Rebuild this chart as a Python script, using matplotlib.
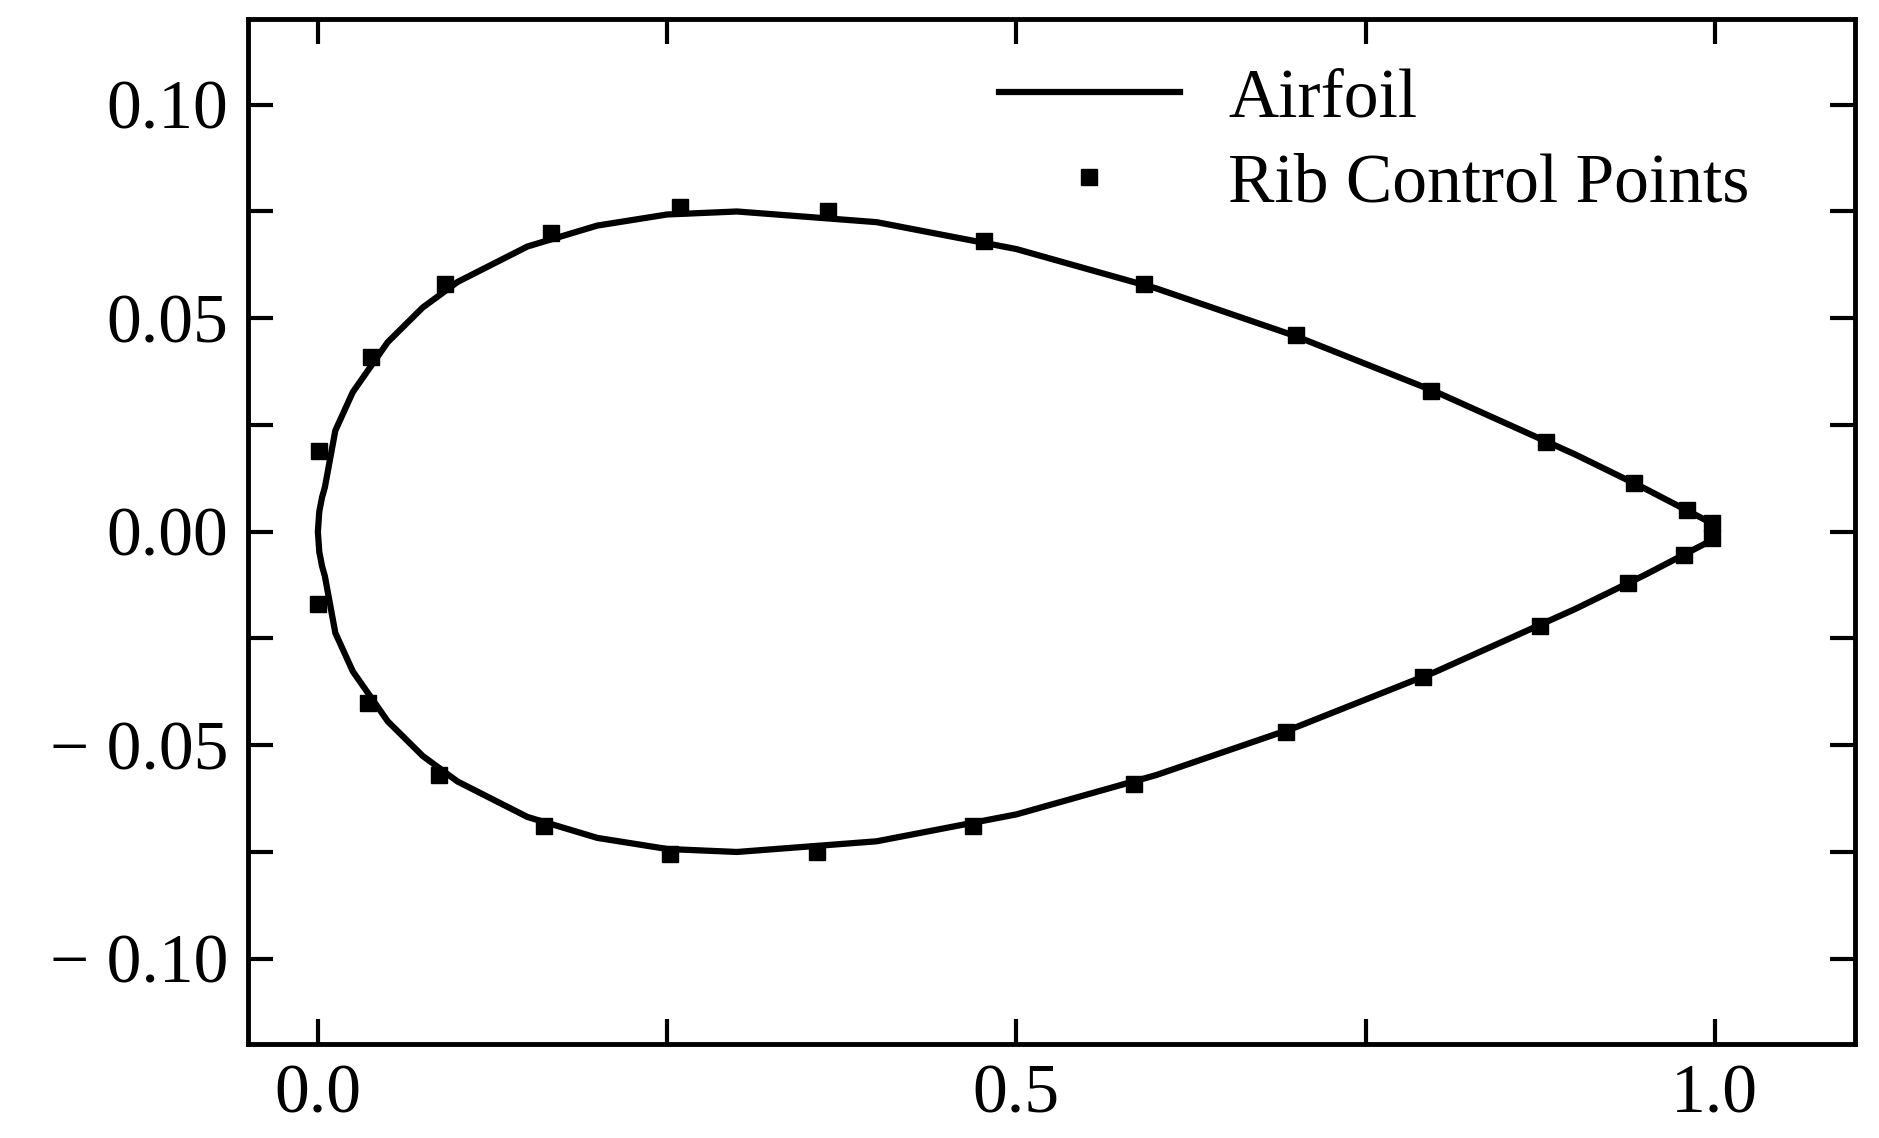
import matplotlib
matplotlib.use("Agg")
import matplotlib.pyplot as plt
from matplotlib.ticker import MultipleLocator, FixedLocator

plt.rcParams['font.family'] = ['Liberation Serif', 'DejaVu Serif']

# Airfoil contour (half-thickness, symmetric section)
foil_x = [0.0, 0.001, 0.003, 0.005, 0.0125, 0.025, 0.05, 0.075, 0.1, 0.15, 0.2, 0.25,
          0.3, 0.4, 0.5, 0.6, 0.7, 0.8, 0.9, 0.95, 1.0]
foil_yt = [0.0, 0.0047, 0.0081, 0.0104, 0.0237, 0.0327, 0.0444, 0.0525, 0.0585, 0.0668,
           0.0717, 0.0743, 0.0750, 0.0725, 0.0662, 0.0570, 0.0458, 0.0328, 0.0181, 0.0101, 0.0016]

upper_x = [0.001, 0.038, 0.091, 0.167, 0.259, 0.365, 0.477, 0.591, 0.700, 0.797, 0.879, 0.942, 0.980, 0.998]
upper_y = [0.019, 0.041, 0.058, 0.070, 0.076, 0.075, 0.068, 0.058, 0.046, 0.033, 0.021, 0.0115, 0.005, 0.002]
lower_x = [0.0, 0.036, 0.087, 0.162, 0.252, 0.357, 0.469, 0.584, 0.693, 0.791, 0.875, 0.938, 0.978, 0.998]
lower_y = [-0.017, -0.040, -0.057, -0.069, -0.0755, -0.075, -0.069, -0.059, -0.047, -0.034, -0.022, -0.012, -0.0055, -0.0015]

xticks = [0.0, 0.5, 1.0]
xlabels = ["0.0", "0.5", "1.0"]
yticks = [-0.10, -0.05, 0.0, 0.05, 0.10]
ylabels = ["\u2212 0.10", "\u2212 0.05", "0.00", "0.05", "0.10"]

fig = plt.figure(figsize=(18.79, 11.38), dpi=100)
ax = fig.add_axes([0.132, 0.0825, 0.855, 0.9005])

cx = foil_x[::-1] + foil_x[1:]
cy = foil_yt[::-1] + [-v for v in foil_yt[1:]]
ax.plot(cx, cy, color='black', lw=4.5, label='Airfoil', solid_joinstyle='round')
ax.plot(upper_x + lower_x, upper_y + lower_y, 's', color='black', ms=12, lw=0,
        label='Rib Control Points')

ax.set_xlim(-0.05, 1.1)
ax.set_ylim(-0.12, 0.12)
ax.set_xticks(xticks)
ax.set_xticklabels(xlabels)
ax.set_yticks(yticks)
ax.set_yticklabels(ylabels)
ax.xaxis.set_minor_locator(FixedLocator([0.25, 0.75]))
ax.yaxis.set_minor_locator(FixedLocator([-0.075, -0.025, 0.025, 0.075]))
ax.tick_params(which='both', direction='in', top=True, right=True, width=3, labelsize=50, pad=14)
ax.tick_params(which='major', length=18)
ax.tick_params(which='minor', length=18)
for s in ax.spines.values():
    s.set_linewidth(3.5)

ax.legend(loc='upper right', frameon=False, fontsize=50, handlelength=2.6,
          handletextpad=0.7, borderaxespad=0.3, labelspacing=0.3,
          bbox_to_anchor=(0.965, 1.0))

fig.savefig('out.png', dpi=100)
